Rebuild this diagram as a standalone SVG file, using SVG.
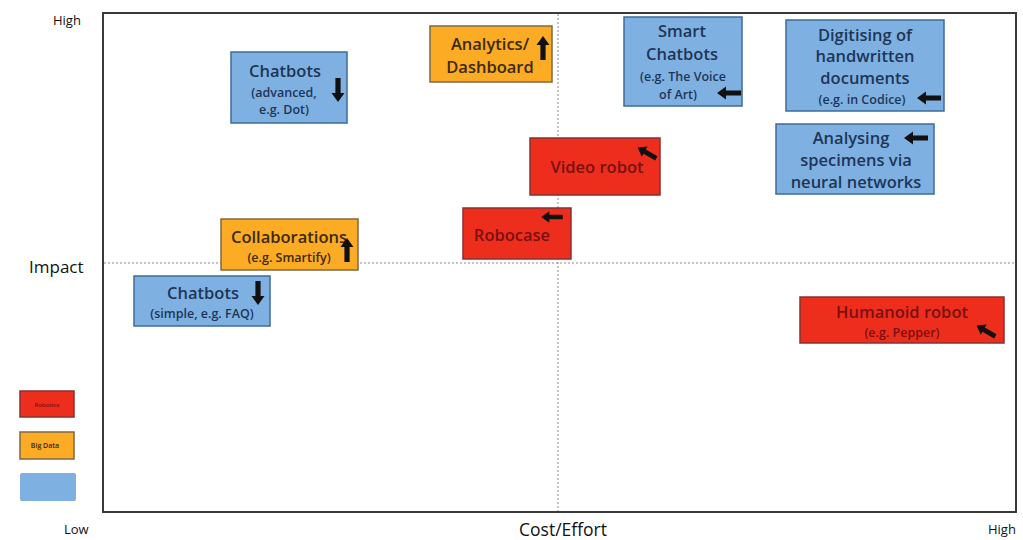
<svg xmlns="http://www.w3.org/2000/svg" width="1023" height="540" viewBox="0 0 1023 540">
<defs>
<style>
.t{font-family:"Open Sans","Liberation Sans",sans-serif;text-anchor:middle;font-weight:600}
.ax{font-family:"Open Sans","Liberation Sans",sans-serif;fill:#111}
.blue{fill:#7eb1e2;stroke:#3f6b98;stroke-width:1.5}
.orange{fill:#fbab24;stroke:#7d6a45;stroke-width:1.5}
.red{fill:#ee2e1c;stroke:#8a3030;stroke-width:1.5}
.bt{fill:#1f3556}
.ot{fill:#3b2a0c}
.rt{fill:#7a1010}
.big{font-size:16.5px}
.sm{font-size:12.5px}
.grid{stroke:#8a8a8a;stroke-width:1;stroke-dasharray:2,2;fill:none}
</style>
<path id="arr" d="M0,-12 L6.5,-3 L2.6,-3 L2.6,12 L-2.6,12 L-2.6,-3 L-6.5,-3 Z" fill="#111"/>
</defs>
<rect width="1023" height="540" fill="#fff"/>

<g id="axes">
<rect x="103" y="13" width="913" height="499" fill="none" stroke="#3a3a3a" stroke-width="2"/>
<line class="grid" x1="558" y1="14" x2="558" y2="511"/>
<line class="grid" x1="104" y1="263" x2="1015" y2="263"/>
<text class="ax" x="53" y="25" font-size="13">High</text>
<text class="ax" x="29" y="273" font-size="17">Impact</text>
<text class="ax" x="64" y="534" font-size="13">Low</text>
<text class="ax" x="563" y="536" font-size="17.5" text-anchor="middle">Cost/Effort</text>
<text class="ax" x="988" y="534" font-size="13">High</text>
</g>

<g id="legend">
<rect class="red" x="20" y="391" width="54" height="26"/>
<text class="t rt" x="47" y="407" font-size="6">Robotics</text>
<rect class="orange" x="20" y="432" width="54" height="27"/>
<text class="t ot" x="45" y="448" font-size="7" font-weight="bold">Big Data</text>
<rect x="20" y="473" width="56" height="28" rx="2" fill="#7eb1e2"/>
</g>

<g id="chatbots-advanced">
<rect class="blue" x="231" y="52" width="116" height="71"/>
<text class="t bt big" x="285" y="77">Chatbots</text>
<text class="t bt sm" x="284" y="97">(advanced,</text>
<text class="t bt sm" x="284" y="114">e.g. Dot)</text>
<use href="#arr" transform="translate(338,90) rotate(180)"/>
</g>

<g id="analytics">
<rect class="orange" x="430" y="26" width="122" height="56"/>
<text class="t ot big" x="490" y="50">Analytics/</text>
<text class="t ot big" x="490" y="73">Dashboard</text>
<use href="#arr" transform="translate(543,48)"/>
</g>

<g id="smart-chatbots">
<rect class="blue" x="624" y="17" width="118" height="89"/>
<text class="t bt big" x="682" y="37">Smart</text>
<text class="t bt big" x="682" y="60">Chatbots</text>
<text class="t bt sm" x="683" y="81">(e.g. The Voice</text>
<text class="t bt sm" x="678" y="99">of Art)</text>
<use href="#arr" transform="translate(729,93) rotate(-90)"/>
</g>

<g id="digitising">
<rect class="blue" x="786" y="20" width="158" height="91"/>
<text class="t bt big" x="865" y="41">Digitising of</text>
<text class="t bt big" x="865" y="62">handwritten</text>
<text class="t bt big" x="865" y="84">documents</text>
<text class="t bt sm" x="862" y="104">(e.g. in Codice)</text>
<use href="#arr" transform="translate(929,98) rotate(-90)"/>
</g>

<g id="analysing">
<rect class="blue" x="776" y="124" width="158" height="70"/>
<text class="t bt big" x="851" y="144">Analysing</text>
<text class="t bt big" x="856" y="166">specimens via</text>
<text class="t bt big" x="856" y="188">neural networks</text>
<use href="#arr" transform="translate(916,138) rotate(-90)"/>
</g>

<g id="video-robot">
<rect class="red" x="530" y="138" width="130" height="57"/>
<text class="t rt big" x="597" y="173">Video robot</text>
<use href="#arr" transform="translate(647,153) rotate(-60) scale(0.9)"/>
</g>

<g id="robocase">
<rect class="red" x="463" y="208" width="108" height="51"/>
<text class="t rt big" x="512" y="241">Robocase</text>
<use href="#arr" transform="translate(552,217) rotate(-90) scale(0.9)"/>
</g>

<g id="collaborations">
<rect class="orange" x="221" y="219" width="137" height="51"/>
<text class="t ot big" x="289" y="243">Collaborations</text>
<text class="t ot sm" x="289" y="262">(e.g. Smartify)</text>
<use href="#arr" transform="translate(347,250)"/>
</g>

<g id="chatbots-simple">
<rect class="blue" x="134" y="276" width="136" height="50"/>
<text class="t bt big" x="203" y="299">Chatbots</text>
<text class="t bt sm" x="202" y="318">(simple, e.g. FAQ)</text>
<use href="#arr" transform="translate(258,293) rotate(180)"/>
</g>

<g id="humanoid-robot">
<rect class="red" x="800" y="297" width="204" height="46"/>
<text class="t rt big" x="902" y="318">Humanoid robot</text>
<text class="t rt sm" x="902" y="337">(e.g. Pepper)</text>
<use href="#arr" transform="translate(986,331) rotate(-60) scale(0.9)"/>
</g>
</svg>
